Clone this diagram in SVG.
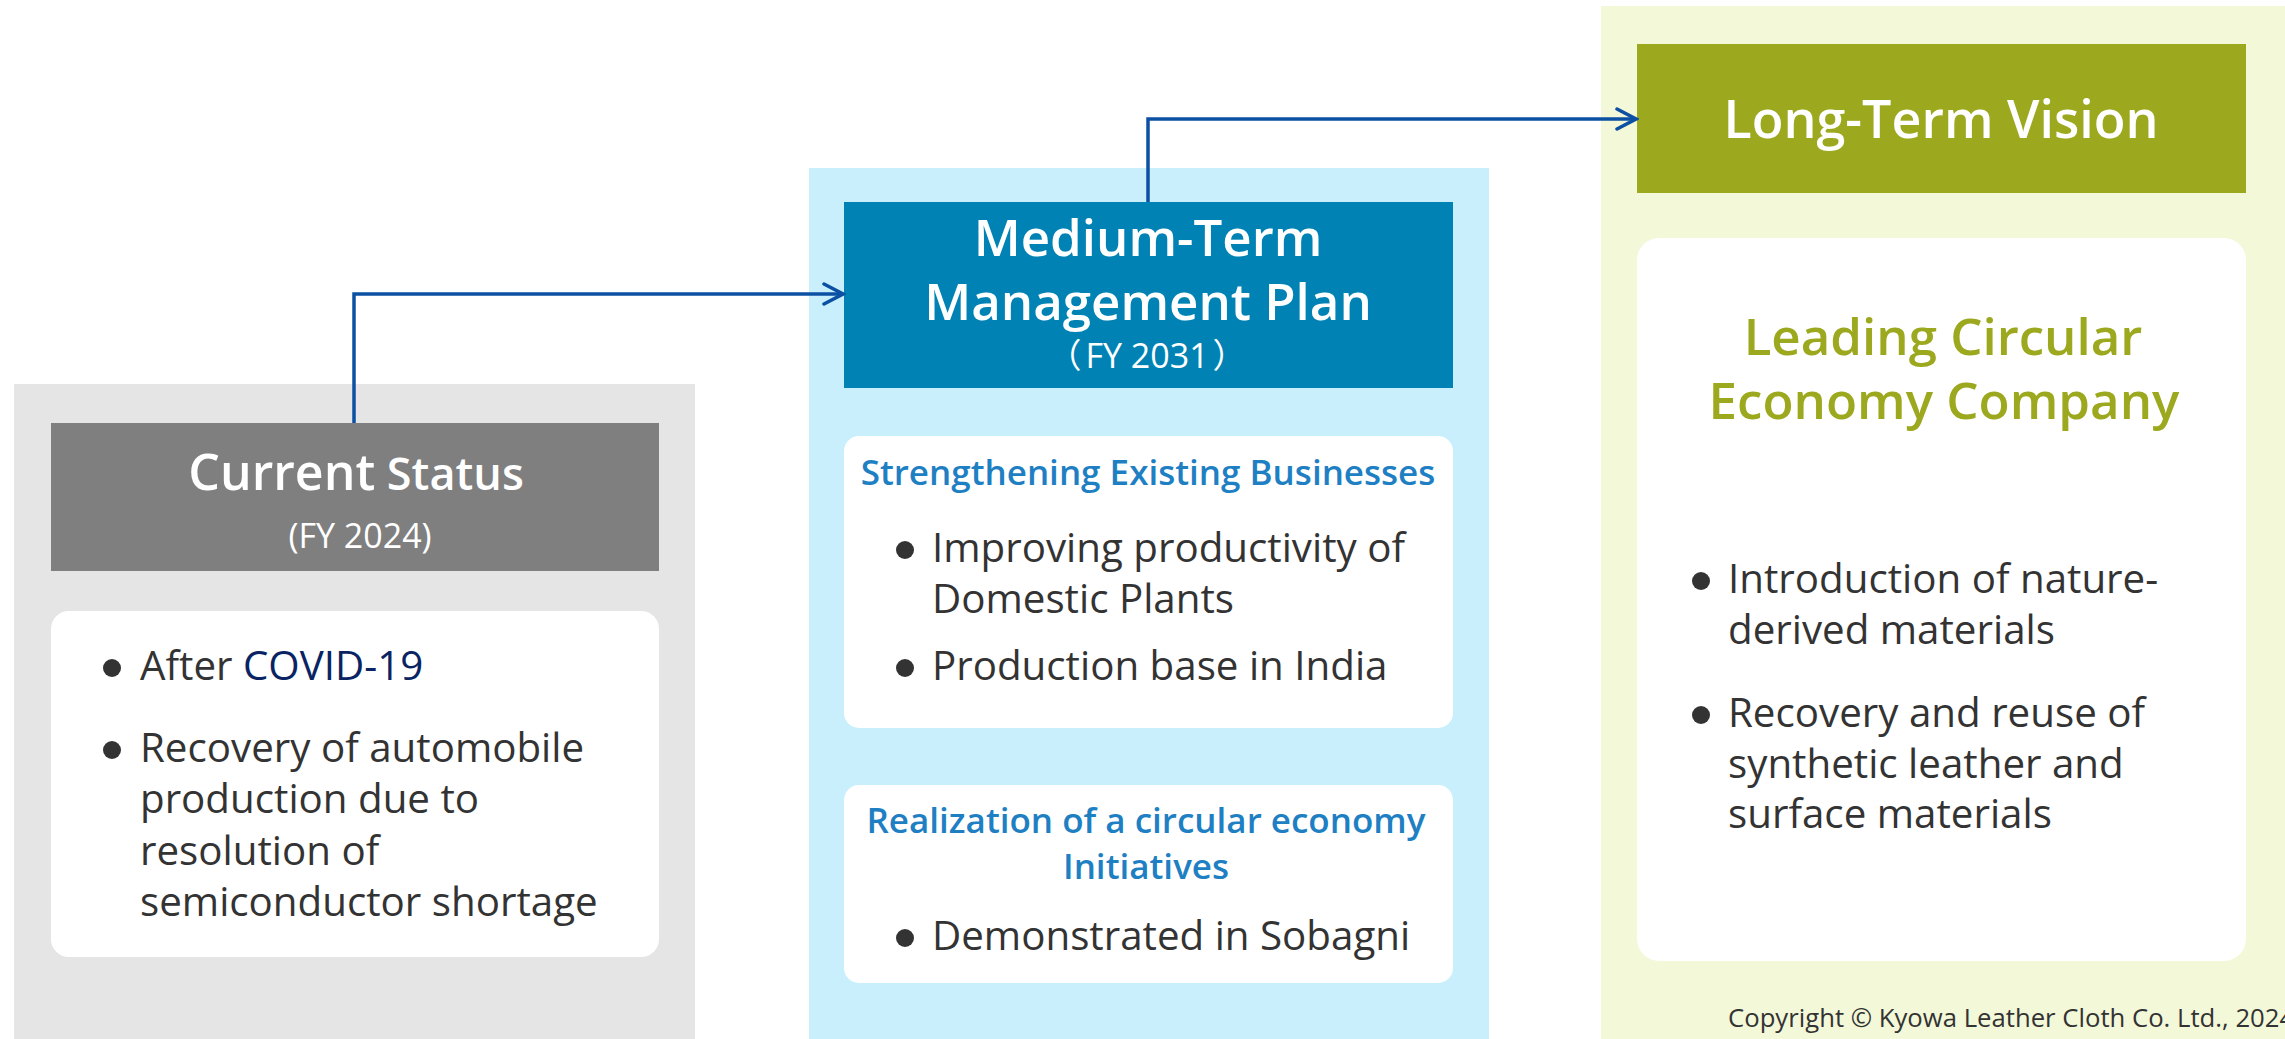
<svg xmlns="http://www.w3.org/2000/svg" width="2285" height="1039" viewBox="0 0 2285 1039">
<style>
text{font-family:"Open Sans","Noto Sans","Noto Sans CJK JP",sans-serif}
.hd{fill:#ffffff;font-weight:600;text-anchor:middle}
.fy{fill:#ffffff;font-weight:400;text-anchor:middle}
.body{fill:#333333;font-size:40.3px}
.sub{fill:#1e80c3;font-size:35px;font-weight:600;text-anchor:middle}
.gt{fill:#9ca81e;font-size:51px;font-weight:600;text-anchor:middle}
.card{fill:#ffffff}
.dot{fill:#333333}
.conn{fill:none;stroke:#0c50a4;stroke-width:3.5}
</style>
<defs>
<marker id="arr" viewBox="0 0 24 24" refX="21" refY="12" markerWidth="24" markerHeight="24" markerUnits="userSpaceOnUse" orient="auto">
<path d="M2,2 L21,12 L2,22" fill="none" stroke="#0c50a4" stroke-width="3.5" stroke-linecap="round" stroke-linejoin="miter"/>
</marker>
</defs>
<rect width="2285" height="1039" fill="#ffffff"/>

<g id="current-status">
<rect x="14" y="384" width="681" height="660" fill="#e5e5e5"/>
<rect x="51" y="423" width="608" height="148" fill="#7f7f7f"/>
<text class="hd" x="356" y="490"><tspan font-size="50">Current</tspan><tspan font-size="45"> Status</tspan></text>
<text class="fy" x="360" y="548" font-size="34">(FY 2024)</text>
<rect class="card" x="51" y="611" width="608" height="346" rx="18"/>
<circle class="dot" cx="112" cy="668" r="9"/>
<text class="body" x="140" y="680">After <tspan fill="#0a2463">COVID-19</tspan></text>
<circle class="dot" cx="112" cy="750" r="9"/>
<text class="body" x="140" y="762">Recovery of automobile</text>
<text class="body" x="140" y="813">production due to</text>
<text class="body" x="140" y="865">resolution of</text>
<text class="body" x="140" y="916">semiconductor shortage</text>
</g>

<g id="medium-term-plan">
<rect x="809" y="168" width="680" height="876" fill="#c9effc"/>
<rect x="844" y="202" width="609" height="186" fill="#0083b4"/>
<text class="hd" x="1148" y="256" font-size="51">Medium-Term</text>
<text class="hd" x="1148" y="320" font-size="51">Management Plan</text>
<text class="fy" x="1147" y="368" font-size="34">（<tspan dx="4">FY 2031</tspan><tspan dx="4">）</tspan></text>
<rect class="card" x="844" y="436" width="609" height="292" rx="15"/>
<text class="sub" x="1148" y="485">Strengthening Existing Businesses</text>
<circle class="dot" cx="905" cy="550" r="9"/>
<text class="body" x="932" y="562">Improving productivity of</text>
<text class="body" x="932" y="613">Domestic Plants</text>
<circle class="dot" cx="905" cy="668" r="9"/>
<text class="body" x="932" y="680">Production base in India</text>
<rect class="card" x="844" y="785" width="609" height="198" rx="15"/>
<text class="sub" x="1146" y="833">Realization of a circular economy</text>
<text class="sub" x="1146" y="879">Initiatives</text>
<circle class="dot" cx="905" cy="938" r="9"/>
<text class="body" x="932" y="950">Demonstrated in Sobagni</text>
</g>

<g id="long-term-vision">
<rect x="1601" y="6" width="690" height="1040" fill="#f3f8d8"/>
<rect x="1637" y="44" width="609" height="149" fill="#9ca81e"/>
<text class="hd" x="1941" y="138" font-size="52">Long-Term Vision</text>
<rect class="card" x="1637" y="238" width="609" height="723" rx="22"/>
<text class="gt" x="1943" y="355">Leading Circular</text>
<text class="gt" x="1944" y="419">Economy Company</text>
<circle class="dot" cx="1701" cy="581" r="9"/>
<text class="body" x="1728" y="593">Introduction of nature-</text>
<text class="body" x="1728" y="644">derived materials</text>
<circle class="dot" cx="1701" cy="715" r="9"/>
<text class="body" x="1728" y="727">Recovery and reuse of</text>
<text class="body" x="1728" y="778">synthetic leather and</text>
<text class="body" x="1728" y="828">surface materials</text>
<text x="1728" y="1027" fill="#333333" font-size="25.7">Copyright © Kyowa Leather Cloth Co. Ltd., 2024</text>
</g>

<g id="connectors">
<path class="conn" d="M354,423 V294 H843" marker-end="url(#arr)"/>
<path class="conn" d="M1148,202 V119 H1636" marker-end="url(#arr)"/>
</g>
</svg>
